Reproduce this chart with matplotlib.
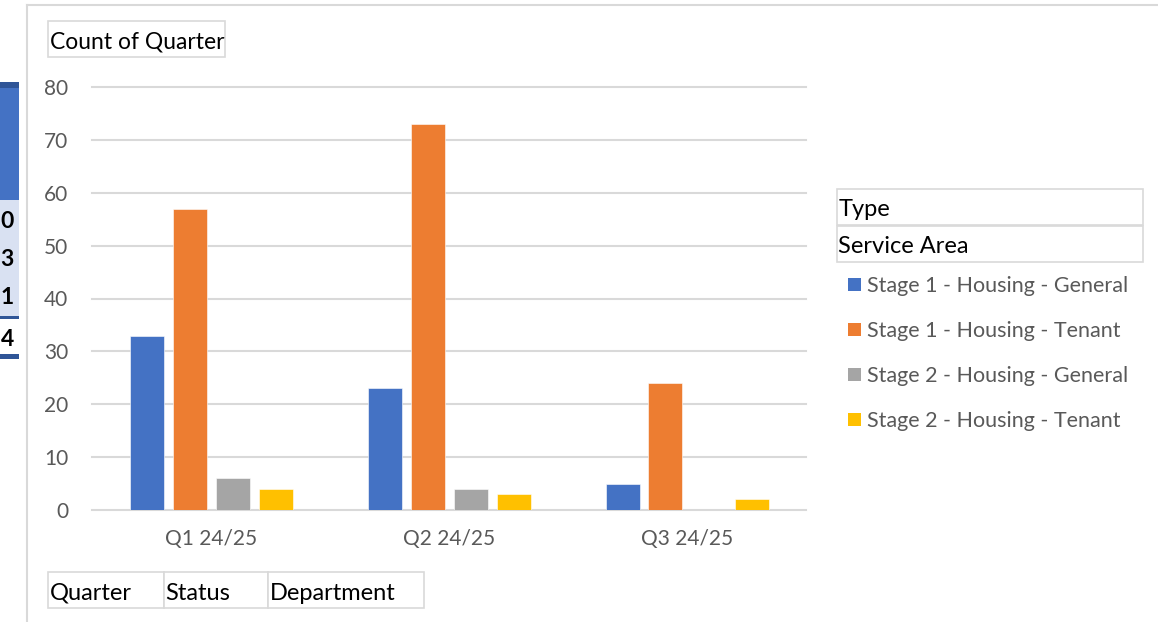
import matplotlib
matplotlib.use("Agg")
import matplotlib.pyplot as plt
from matplotlib.patches import Rectangle
import numpy as np

W, H = 1158, 622

quarters = ["Q1 24/25", "Q2 24/25", "Q3 24/25"]
series_names = [
    "Stage 1 - Housing - General",
    "Stage 1 - Housing - Tenant",
    "Stage 2 - Housing - General",
    "Stage 2 - Housing - Tenant",
]
stage1_general = [33, 23, 5]
stage1_tenant = [57, 73, 24]
stage2_general = [6, 4, 0]
stage2_tenant = [4, 3, 2]
series_values = [stage1_general, stage1_tenant, stage2_general, stage2_tenant]
series_colors = ["#4472C4", "#ED7D31", "#A5A5A5", "#FFC000"]
y_ticks = [0, 10, 20, 30, 40, 50, 60, 70, 80]
row_fields = ["Quarter", "Status", "Department"]
legend_fields = ["Type", "Service Area"]
side_digits = ["0", "3", "1", "4"]

FONT = ["Lato", "DejaVu Sans"]
plt.rcParams["font.family"] = FONT
GRID = "#D9D9D9"
LABEL = "#595959"

fig = plt.figure(figsize=(W / 100, H / 100), dpi=100)
fig.patch.set_facecolor("white")


def px(x, y, w, h):
    """Convert a pixel box (top-left origin) to figure fractions."""
    return (x / W, 1 - (y + h) / H, w / W, h / H)


def fbox(x, y, w, h, **kw):
    l, b, ww, hh = px(x, y, w, h)
    r = Rectangle((l, b), ww, hh, transform=fig.transFigure, **kw)
    fig.patches.append(r)
    return r


# partial pivot table peeking in at the left edge
fbox(0, 82, 19, 6, facecolor="#2F5597", edgecolor="none")
fbox(0, 88, 19, 112, facecolor="#4472C4", edgecolor="none")
fbox(0, 200, 19, 117, facecolor="#D9E1F2", edgecolor="none")
fbox(0, 316, 19, 2.5, facecolor="#2F5597", edgecolor="none")
fbox(0, 354, 19, 5, facecolor="#2F5597", edgecolor="none")
for d, yy in zip(side_digits, [222, 260, 298, 339]):
    fig.text(14 / W, 1 - yy / H, d, ha="right", va="center", fontsize=16.5,
             fontweight="bold", color="black")

# chart area border
fig.add_artist(plt.Line2D([27 / W, 1], [1 - 4.5 / H, 1 - 4.5 / H],
                          transform=fig.transFigure, color=GRID, lw=1.5))
fig.add_artist(plt.Line2D([27 / W, 27 / W], [0, 1 - 4.5 / H],
                          transform=fig.transFigure, color=GRID, lw=1.5))

# plot area
ax = fig.add_axes(px(92, 87, 714, 423))
ax.set_xlim(0, 3)
ax.set_ylim(0, 80)
centers = np.arange(len(quarters)) + 0.5
bw = 34 / 238
step = 43 / 238
for i, (vals, col) in enumerate(zip(series_values, series_colors)):
    off = (i - 1.5) * step
    ax.bar(centers + off, vals, width=bw, color=col, zorder=3,
           edgecolor="white", linewidth=0.4)

ax.set_yticks(y_ticks)
ax.set_xticks(centers)
ax.set_xticklabels(quarters)
for s in ax.spines.values():
    s.set_visible(False)
ax.tick_params(axis="both", length=0, labelsize=15, labelcolor=LABEL)
ax.tick_params(axis="y", pad=17)
ax.tick_params(axis="x", pad=14)
ax.grid(axis="y", color=GRID, lw=1.5, zorder=0)
for gl in ax.yaxis.get_gridlines():
    gl.set_clip_on(False)

# field buttons
def field_button(x, y, w, h, label, size=17):
    fbox(x, y, w, h, facecolor="white", edgecolor=GRID, lw=1.2)
    fig.text((x + 1.5) / W, 1 - (y + h / 2 + 3) / H, label, ha="left",
             va="center", fontsize=size, color="black")

field_button(48, 21, 177, 36, "Count of Quarter", size=16.5)
field_button(48, 572, 116, 36, row_fields[0])
field_button(164, 572, 104, 36, row_fields[1])
field_button(268, 572, 156, 36, row_fields[2])
field_button(837, 189, 306, 36, legend_fields[0])
field_button(837, 226, 306, 36, legend_fields[1])

# legend
for name, col, yy in zip(series_names, series_colors, [285, 330, 375, 420]):
    fbox(848, yy - 7, 13, 13, facecolor=col, edgecolor="none")
    fig.text(867 / W, 1 - (yy + 1) / H, name, ha="left", va="center",
             fontsize=15.5, color=LABEL)

fig.savefig("out.png", dpi=100, facecolor="white")
